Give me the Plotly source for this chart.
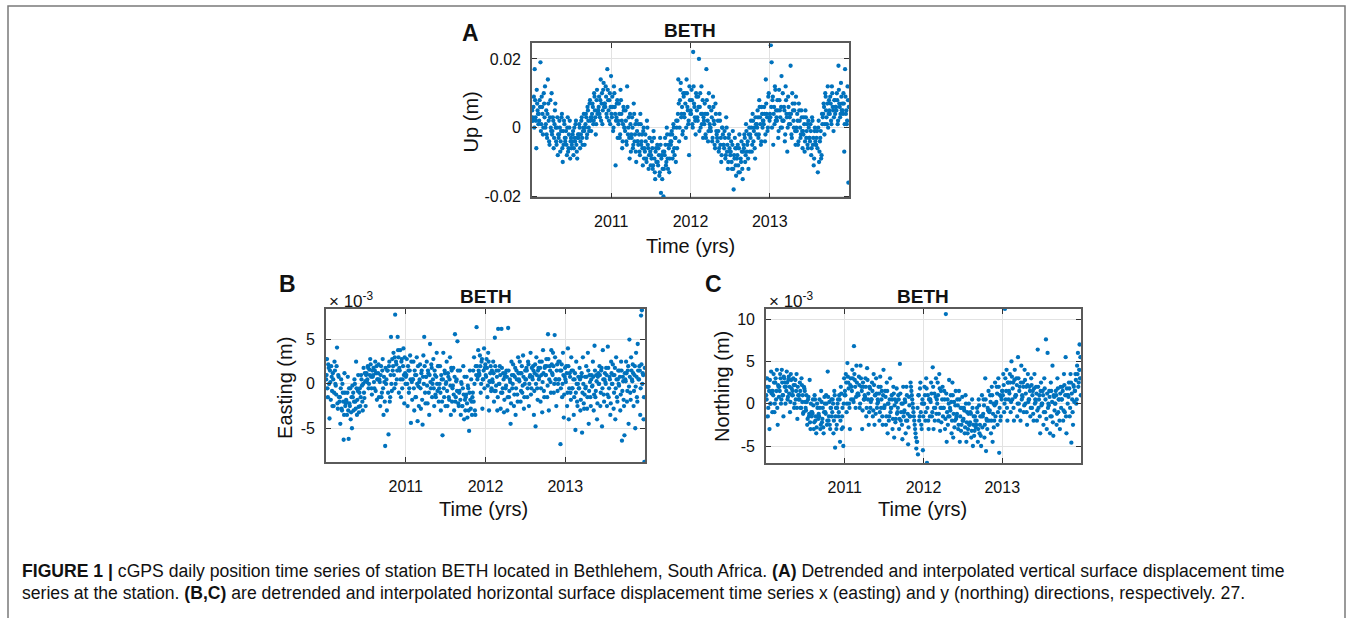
import numpy as np
import plotly.graph_objects as go

W, H = 1354, 618
FONT = "Liberation Sans, Arial, sans-serif"

# ---- data (one row per month, 2010-01 .. 2013-12) ----
# Two sets of 8 readings per month are interleaved in time.
# Up component, millimetres
up_mm_rows = [
    [5, 2, 9, 17, 3, -6, 7, 4], [4, 8, 19, 1, 6, -2, 10, 3], [0, 5, -3, 14, 2, -5, 8, -1],
    [-2, 3, -6, 1, 7, -4, 0, -8], [-3, 2, -7, -1, 4, -10, -5, 1], [-4, -1, -8, 3, -6, 0, -9, -3],
    [-5, -2, -8, 0, -4, 2, -7, -3], [-3, 1, -6, -2, 3, -5, 0, -1], [0, 4, -3, 6, 2, -1, 8, 3],
    [3, 7, 1, 10, 5, -2, 8, 4], [5, 9, 3, 14, 7, 1, 11, 6], [7, 12, 4, 17, 8, 2, 10, 6],
    [4, 9, -1, 12, 6, -11, 3, 8], [2, 7, -3, 11, 4, -6, 1, 5], [0, 5, -4, 12, -2, 3, -9, 1],
    [-2, 3, -6, 7, -4, 1, -10, -1], [-4, 1, -7, 4, -5, -2, -11, 0], [-6, -2, -9, 2, -5, -12, -3, -7],
    [-8, -4, -12, -1, -9, -15, -6, -10], [-10, -6, -14, -3, -19, -8, -12, -20], [-7, -3, -11, 0, -9, -5, -13, -2],
    [-5, -1, -9, 1, -6, -3, -10, 0], [2, 14, -4, 8, 13, 4, -2, 10], [4, 10, -3, 14, 6, 1, -8, 8],
    [5, 11, 1, 22, 7, 3, -2, 9], [3, 9, 20, 6, 0, 12, 4, -3], [2, 7, -2, 17, 4, -4, 10, 1],
    [0, 5, -4, 9, 2, -5, 7, -1], [-3, 2, -7, 4, -5, -10, 0, -2], [-5, -1, -9, 3, -7, -12, -3, -6],
    [-8, -4, -12, -1, -18, -9, -6, -14], [-9, -5, -13, -2, -21, -10, -7, -15], [-5, -2, -10, 1, -7, -4, -12, 0],
    [-2, 2, -7, 4, -4, 0, -9, 1], [1, 5, -3, 8, 3, -5, 6, 0], [2, 6, -4, 14, 4, -1, 9, 3],
    [4, 24, 19, 8, -5, 6, 12, 2], [3, 8, -3, 11, 5, 0, 15, 2], [2, 6, -4, 12, 4, -7, 9, 1],
    [3, 18, -2, 10, 5, 0, 7, -5], [0, 4, -5, 7, 2, -3, 5, -1], [-1, 3, -7, 5, -3, 1, -6, 0],
    [-3, 1, -8, 3, -5, -11, -1, -4], [-5, -1, -13, 2, -7, -3, -9, 4], [3, 7, -2, 10, 5, 1, 12, 4],
    [5, 9, 2, 12, 6, -1, 8, 4], [6, 10, 1, 18, 7, 3, 13, 5], [5, 10, -7, 17, 4, 1, 12, -16],
]
up_mm_rows_b = [
    [3, 6, 0, 8, 2, 11, 5, 1], [2, 6, -1, 9, 4, 0, 7, 12], [1, -2, 4, 7, -4, 3, 0, 10],
    [-1, 2, -3, 5, 0, -5, 3, -2], [-2, 0, -4, 3, -6, -1, 2, -3], [-3, -5, 0, -7, -2, 2, -4, -6],
    [-4, -1, -6, -3, 1, -5, -9, -2], [-2, 0, -4, 2, -3, -1, 4, -5], [1, 3, -2, 5, 0, 7, 2, -1],
    [4, 6, 2, 9, 3, 1, 11, 5], [6, 4, 8, 2, 10, 5, 13, 7], [6, 9, 3, 11, 5, 8, 1, 15],
    [3, 6, 0, 10, 4, 2, 7, -3], [1, 4, -2, 8, 2, -4, 6, 0], [-1, 2, -5, 6, 0, -3, 4, -7],
    [-3, 0, -5, 4, -2, -7, 2, -4], [-5, -2, -8, 1, -4, -6, -1, -9], [-7, -4, -10, 0, -6, -8, -3, -11],
    [-9, -6, -11, -3, -13, -7, -10, -5], [-11, -8, -13, -5, -9, -15, -7, -12], [-8, -5, -10, -2, -12, -6, -9, -4],
    [-4, -2, -7, 0, -8, -3, 2, -6], [4, 7, 0, 11, 3, 6, -1, 9], [3, 7, 0, 10, 5, 2, 12, 4],
    [4, 8, 0, 12, 6, 2, 10, 5], [2, 6, -1, 10, 4, 1, 8, 3], [1, 4, -3, 8, 2, -1, 6, 0],
    [-1, 3, -3, 6, 1, -6, 4, -2], [-4, -1, -6, 2, -3, -8, 0, -5], [-6, -3, -8, 0, -5, -10, -2, -7],
    [-7, -10, -5, -12, -8, -3, -11, -6], [-8, -11, -6, -13, -9, -4, -12, -7], [-6, -3, -8, -1, -5, -9, -2, -7],
    [-3, 0, -5, 2, -1, -6, 3, -2], [0, 3, -2, 6, 1, -4, 4, 2], [1, 4, -2, 7, 3, 0, 10, 2],
    [3, 6, 0, 9, 4, 1, 11, 5], [2, 5, -1, 8, 3, 6, 0, 10], [2, 5, -2, 8, 3, 0, 6, 4],
    [1, 4, -3, 7, 2, 5, -1, 9], [-1, 2, -4, 5, 0, -2, 3, -6], [-2, 1, -4, 3, -1, -5, 2, -3],
    [-4, -1, -6, 2, -3, -9, 0, -5], [-3, -6, 0, -10, -4, -1, -8, 1], [4, 6, 1, 9, 3, 7, 0, 8],
    [4, 7, 1, 10, 5, 3, 8, 6], [5, 8, 2, 11, 6, 4, 9, 7], [4, 7, 1, 9, 5, 2, 8, 6],
]

# Easting component, millimetres
east_mm_rows = [
    [0.5, 2.8, -1.5, 1.8, -3.9, 0.2, 2.0, -0.8], [1.2, -2.5, 2.5, 0.0, -1.2, 4.1, -2.8, 0.8],
    [-2.0, -4.5, 0.5, -3.0, -1.0, -6.3, 1.2, -2.5], [-1.8, -3.5, 0.8, -6.2, -2.2, -0.5, -3.2, -5.0],
    [-1.5, -3.0, 0.5, -2.0, 2.5, -3.5, -0.8, -2.6], [-1.0, -2.5, 1.0, -0.2, -3.0, 1.8, -1.6, 0.3],
    [1.0, 0.2, 2.0, -0.5, 1.6, 2.8, 0.8, -1.2], [0.8, 1.8, -0.5, 2.5, 1.2, -1.8, 0.5, 2.2],
    [0.5, -2.5, 2.0, -1.0, 2.8, -3.5, 0.2, -7.0], [0.0, -3.0, 1.5, -5.7, 2.5, -1.5, 5.3, -0.8],
    [1.5, 3.5, -0.5, 7.8, 2.5, 0.5, 5.3, 3.0], [1.8, 3.8, -1.5, 2.8, 0.5, 4.0, -2.2, 1.2],
    [0.8, 2.8, -2.5, 1.5, -0.5, 3.2, -4.4, 0.2], [0.5, 2.5, -3.0, 1.0, -1.5, 3.0, -4.2, -0.3],
    [0.2, 2.2, -2.8, 1.5, -4.6, 3.2, 5.3, -1.0], [0.8, 2.5, -2.2, 1.2, -3.5, 4.5, -0.5, 1.8],
    [0.0, 2.8, -2.5, 1.0, -1.5, 3.5, -0.8, 2.0], [-0.5, 2.0, -3.0, 0.5, -5.8, 3.5, -1.5, 1.2],
    [0.0, 2.5, -2.5, 0.8, -1.8, 3.0, -3.5, 1.5], [-0.5, 1.8, -3.0, 5.6, -1.5, 0.5, 4.8, -2.2],
    [-1.0, 1.5, -3.5, 0.0, -2.5, 2.0, -4.0, -1.8], [-1.5, 0.8, -3.8, -0.5, -5.3, 1.5, -2.8, -2.0],
    [-1.5, 1.5, 3.0, -3.0, 2.0, 6.4, 0.5, 3.8], [1.2, 3.2, -1.0, 2.5, -2.8, 0.5, 4.0, 1.8],
    [1.0, 2.8, -1.5, 3.5, -3.0, 0.2, 2.0, -0.5], [0.5, 2.5, -2.0, 5.2, -0.8, 1.5, -3.0, 6.2],
    [0.0, 2.0, -2.8, 6.2, -1.0, 1.2, -3.2, 0.8], [-0.5, 1.5, -3.0, 6.3, -1.5, 0.5, -4.5, 2.5],
    [-0.5, 2.2, -2.5, 0.8, -3.5, 1.5, -1.2, 3.0], [0.5, 2.5, -2.0, 1.2, -1.0, 3.2, -2.8, 0.0],
    [0.5, 1.8, -1.5, 2.5, -2.5, 0.8, 3.5, -0.5], [0.8, 2.0, -3.5, 1.2, -4.8, 3.0, -0.5, 1.5],
    [0.5, 2.5, -2.0, 1.0, -3.2, 3.8, -0.8, 1.8], [1.0, 2.8, -1.5, 5.6, -3.0, 2.0, 0.2, 3.8],
    [1.2, 3.5, -1.0, 5.5, 0.5, -2.5, 2.2, 0.0], [0.5, 2.5, -6.8, 1.5, -1.5, 3.5, -3.8, 0.8],
    [0.5, 2.0, -2.5, 4.0, -4.0, 1.2, -1.0, 3.0], [-0.5, 1.5, -3.5, 0.5, -5.2, 2.5, -2.0, 0.0],
    [-0.5, 1.8, -3.0, 0.8, -5.5, 3.0, -2.2, -1.2], [-0.5, 2.0, -2.8, 3.5, -4.5, 1.0, -1.5, 0.5],
    [-0.3, 2.5, -3.0, 4.3, -1.5, 1.0, -4.0, 0.8], [0.0, 2.0, -2.5, 1.5, -4.8, 3.8, -1.2, 0.5],
    [0.2, 1.8, -2.5, 4.2, -1.5, 0.8, -3.5, 2.5], [0.0, 2.2, -2.8, 1.0, -4.0, 3.0, -1.5, 0.5],
    [0.0, 1.5, -3.0, 2.5, -6.4, 0.8, -1.8, -5.8], [0.5, 2.5, -2.0, 1.5, -4.5, 5.0, -1.0, 3.0],
    [0.5, 2.2, -2.5, 1.0, -5.0, 3.5, -1.5, 4.5], [0.5, 2.0, -3.5, 7.7, 8.3, 1.2, -4.0, -8.8],
]
east_mm_rows_b = [
    [1.0, -0.5, 2.2, 0.0, 1.5, -1.8, 0.8, -2.5], [0.5, -1.0, 1.5, -0.2, 2.0, -2.2, 1.0, -1.5],
    [-1.5, -0.5, -2.8, 0.0, -2.0, -3.5, -1.0, -2.2], [-2.0, -1.0, -3.0, -0.5, -2.5, -4.0, -1.5, -0.2],
    [-1.0, -2.0, 0.0, -2.8, -0.5, -1.8, 1.0, -3.2], [-0.5, -1.5, 0.5, -2.0, 0.0, -1.0, 1.2, -2.5],
    [1.2, 0.5, 1.8, 0.0, 1.0, 2.2, -0.5, 1.5], [1.0, 0.2, 1.5, -0.8, 2.0, 0.5, 1.2, -1.5],
    [0.2, 1.0, -1.5, 1.5, -0.5, 0.8, -2.0, 1.8], [0.5, 1.5, -1.0, 2.0, -2.0, 1.0, 0.0, 2.8],
    [2.0, 1.0, 3.0, 0.0, 2.2, 1.5, 3.8, -1.0], [1.5, 0.5, 2.5, -0.5, 2.0, 1.0, 3.0, 0.0],
    [1.0, 0.0, 2.0, -1.0, 1.5, 0.5, 2.5, -1.8], [0.5, -0.5, 1.5, -1.5, 1.0, 0.0, 2.0, -2.5],
    [0.5, -0.5, 1.2, -1.8, 0.8, 0.0, 2.0, -2.2], [0.8, -0.2, 1.5, -1.0, 1.0, 0.2, 2.2, -1.5],
    [0.5, -0.5, 1.5, -1.2, 0.8, 0.0, 2.0, -2.0], [0.0, -1.0, 1.0, -2.0, 0.5, -0.5, 1.5, -2.5],
    [0.2, -0.8, 1.2, -1.5, 0.5, -0.2, 1.8, -2.0], [-0.2, -1.2, 0.8, -2.0, 0.3, -0.8, 1.5, -2.5],
    [-0.8, -1.8, 0.2, -2.5, -0.5, -1.2, 0.8, -3.0], [-1.2, -2.2, -0.2, -3.0, -1.0, -1.8, 0.5, -3.5],
    [-1.0, -2.0, 0.0, -3.5, 1.0, 2.0, 0.8, 1.5], [1.0, 2.0, 0.0, 2.8, 0.5, 1.5, -0.5, 2.2],
    [0.8, 1.8, -0.2, 2.5, 0.3, 1.2, -0.8, 1.5], [0.2, 1.2, -0.8, 2.0, -0.2, 0.8, -1.5, 1.5],
    [0.0, 1.0, -1.0, 1.8, -0.5, 0.5, -1.8, 1.2], [-0.2, 0.8, -1.5, 1.5, -0.8, 0.2, -2.2, 1.0],
    [0.0, 1.0, -1.2, 1.8, -0.5, 0.5, -2.0, 1.2], [0.3, 1.2, -0.8, 2.0, -0.2, 0.8, -1.5, 1.5],
    [0.5, 1.5, -0.5, 2.2, 0.0, 1.0, -1.2, 1.8], [0.5, 1.5, -0.8, 2.2, 0.0, 1.0, -1.8, 1.8],
    [0.8, 1.8, -0.5, 2.5, 0.2, 1.2, -1.5, 2.0], [1.0, 2.0, -0.2, 2.8, 0.5, 1.5, -1.0, 2.2],
    [1.0, 2.0, 0.0, 3.0, 0.5, 1.5, -0.8, 2.5], [0.5, 1.5, -0.5, 2.2, 0.0, 1.0, -1.2, 1.8],
    [0.2, 1.2, -1.0, 2.0, -0.5, 0.8, -1.8, 1.5], [-0.5, 0.5, -1.5, 1.2, -1.0, 0.0, -2.5, 0.8],
    [-0.5, 0.5, -1.8, 1.2, -1.0, 0.0, -2.8, 0.8], [-0.3, 0.8, -1.5, 1.5, -0.8, 0.2, -2.5, 1.0],
    [-0.2, 0.8, -1.2, 1.5, -0.8, 0.3, -2.2, 1.2], [0.0, 1.0, -1.0, 1.8, -0.5, 0.5, -2.0, 1.2],
    [0.0, 1.0, -1.2, 1.8, -0.5, 0.5, -2.2, 1.2], [0.0, 1.0, -1.0, 1.8, -0.5, 0.5, -2.0, 1.5],
    [-0.2, 0.8, -1.2, 1.5, -0.8, 0.3, -2.5, 1.2], [0.3, 1.2, -0.8, 2.0, -0.3, 0.8, -1.8, 1.5],
    [0.3, 1.2, -0.8, 2.0, -0.3, 0.8, -2.0, 1.5], [0.5, 1.5, -0.5, 2.2, 0.0, 1.0, -1.5, 1.8],
]

# Northing component, millimetres
north_mm_rows = [
    [1.0, 3.0, -1.5, 2.0, -3.0, 0.0, 3.8, 1.5], [1.5, 3.5, -1.0, 2.5, 0.5, 4.0, -2.5, 2.0],
    [2.0, 3.5, 0.0, 4.0, 1.0, -1.5, 3.0, 2.5], [2.0, 3.8, 0.5, 2.8, 1.2, -1.0, 3.5, 1.8],
    [1.5, 3.0, -0.5, 2.2, 0.5, 3.5, -1.8, 1.0], [1.0, 2.5, -0.5, 3.0, 0.2, -1.2, 2.0, 1.5],
    [-0.5, 1.0, -2.5, 0.5, -1.5, 2.8, -3.0, -1.0], [-1.0, 0.5, -3.0, 1.0, -2.0, -3.5, 0.0, -1.5],
    [-1.2, 0.5, -3.0, 1.5, -2.2, -0.5, -3.5, 0.8], [-1.0, 1.0, -2.5, 3.8, -2.0, 0.2, -3.0, -0.5],
    [-1.5, 0.5, -3.5, 1.5, -5.2, -0.5, -2.5, 0.0], [-1.5, 1.0, -4.5, 2.0, -3.0, -0.5, -5.0, 3.0],
    [1.5, 3.5, -1.0, 4.8, 2.5, 0.0, -3.0, 3.0], [2.0, 4.0, 0.5, 6.8, 2.8, -0.5, 4.5, 1.0],
    [1.2, 3.2, -0.5, 4.5, 2.0, -3.0, 2.5, 0.5], [1.0, 3.0, -1.5, 4.2, 0.5, -2.5, 2.0, -0.5],
    [0.5, 2.5, -1.5, 3.5, -2.5, 1.0, 3.0, -0.5], [0.5, 2.0, -2.0, 3.2, -0.5, 1.5, -2.5, 4.0],
    [-0.5, 1.5, -2.5, 2.5, -3.5, 0.0, -1.5, 3.0], [-0.5, 1.0, -3.0, 2.0, -4.0, 0.5, -1.8, 1.8],
    [-1.0, 1.0, -3.0, 4.7, -2.0, 0.0, -4.2, 2.0], [-1.0, 0.5, -3.5, 2.0, -2.0, -4.8, 0.8, -1.5],
    [2.5, 1.5, 0.5, -0.5, -1.5, -2.5, -3.5, -5.3], [-4.5, -6.0, 1.0, -1.5, 2.5, -2.5, 0.0, -5.5],
    [0.0, 2.0, -2.0, 3.0, -7.0, 1.0, -3.0, 0.5], [0.5, 2.5, -1.5, 4.3, -3.0, 1.2, -0.5, 3.0],
    [0.5, 2.5, -2.0, 3.5, -3.2, 1.5, -0.5, 2.0], [-0.5, 1.5, -3.0, 10.6, -4.5, 0.5, -1.5, 2.8],
    [-0.5, 1.0, -3.5, 2.5, -4.0, 0.2, -2.0, 1.5], [-1.5, 0.5, -3.0, 1.5, -4.5, -0.5, -2.5, 0.8],
    [-2.0, -0.5, -3.5, 1.0, -4.5, -1.0, -3.0, 0.0], [-2.5, -1.0, -4.0, 0.5, -5.0, -1.5, -3.2, -2.0],
    [-2.5, -0.5, -4.5, 0.5, -3.5, -1.5, -5.0, 1.0], [-1.5, 0.5, -4.0, 3.0, -5.6, -2.0, -0.5, 1.5],
    [-1.0, 1.0, -3.5, 2.0, -4.5, 0.0, -2.0, 2.5], [0.0, 2.0, -2.5, 3.0, -5.8, 1.0, -1.5, 0.5],
    [1.5, 3.5, -1.0, 11.2, 0.5, 4.0, -2.0, 2.5], [1.5, 3.5, -1.0, 5.0, 0.5, 2.5, -2.0, 4.0],
    [1.0, 3.0, -1.5, 5.5, 0.0, 2.0, -2.0, 4.5], [1.0, 2.5, -1.0, 4.0, 0.0, 2.0, -2.5, 3.5],
    [0.5, 2.0, -1.5, 3.0, -0.5, 1.5, -2.0, 3.5], [0.5, 2.0, -2.0, 6.4, -0.5, 1.0, -3.5, 2.5],
    [0.0, 1.5, -2.5, 3.0, -1.0, 7.6, -3.0, 6.0], [0.0, 1.5, -3.5, 2.5, -1.5, 4.5, -3.8, 0.8],
    [0.0, 1.5, -2.5, 3.0, -1.0, 0.5, -3.0, 2.0], [0.5, 2.0, -2.0, 3.5, -1.0, 5.5, -3.5, 1.0],
    [1.0, 2.5, -1.5, 3.5, -4.6, 0.5, -2.5, 2.0], [1.5, 3.5, 0.0, 4.5, 6.0, 2.5, 7.0, 5.5],
]
north_mm_rows_b = [
    [0.5, 2.0, -0.5, 1.5, 2.8, 0.0, 1.2, -1.0], [1.0, 2.5, 0.0, 3.0, 1.5, -0.5, 2.2, 0.8],
    [1.5, 3.0, 0.5, 2.5, 1.0, 3.2, 2.0, 0.0], [1.5, 2.5, 0.8, 3.2, 2.0, 0.2, 2.8, 1.0],
    [1.0, 2.2, 0.0, 2.8, 1.5, -0.5, 2.0, 0.5], [0.5, 1.5, -0.5, 2.2, 1.0, -1.0, 1.8, 0.2],
    [-0.8, 0.2, -1.8, 0.8, -1.2, -2.2, 0.0, -1.5], [-1.2, -0.2, -2.2, 0.5, -1.5, -2.8, -0.5, -1.8],
    [-1.5, -0.5, -2.5, 0.2, -1.8, -2.8, -1.0, 0.0], [-1.2, 0.0, -2.0, 0.8, -1.5, -2.5, -0.5, 0.5],
    [-1.0, 0.0, -2.0, 1.0, -1.5, -3.0, -0.5, 0.5], [-1.0, 0.5, -2.0, 1.2, -1.5, -2.8, 0.0, 1.0],
    [1.0, 2.5, 0.0, 3.2, 1.8, -0.5, 2.2, 0.5], [1.5, 3.0, 0.2, 3.5, 2.0, 0.8, 2.5, 1.2],
    [1.0, 2.2, 0.0, 3.0, 1.5, -0.8, 2.0, 0.5], [0.8, 2.0, -0.5, 2.8, 1.2, -1.0, 1.8, 0.2],
    [0.5, 1.5, -0.8, 2.2, 1.0, -1.2, 1.2, 0.0], [0.2, 1.2, -1.0, 2.0, 0.5, -1.5, 1.0, -0.5],
    [-0.2, 0.8, -1.5, 1.5, 0.0, -2.0, 0.5, -1.0], [-0.5, 0.5, -1.8, 1.2, -0.2, -2.2, 0.2, -1.2],
    [-0.5, 0.5, -1.8, 1.2, -1.0, -2.5, 0.0, -1.5], [-0.8, 0.2, -2.0, 1.0, -1.2, -2.8, -0.2, -1.5],
    [2.0, 1.0, 0.0, -1.0, -2.0, -3.0, -4.0, -4.5], [-0.5, 1.0, -2.0, 1.8, -1.0, -3.0, 0.5, -1.5],
    [0.0, 1.0, -1.0, 1.8, -0.5, -2.0, 0.5, -1.5], [0.2, 1.2, -1.0, 2.0, -0.5, -2.0, 0.8, -1.2],
    [0.0, 1.0, -1.2, 1.8, -0.5, -2.2, 0.5, -1.5], [-0.5, 0.5, -1.8, 1.2, -1.0, -2.5, 0.0, -1.5],
    [-0.8, 0.2, -2.0, 1.0, -1.2, -2.8, -0.2, -1.8], [-1.2, -0.2, -2.5, 0.5, -1.5, -3.2, -0.5, -2.0],
    [-1.8, -0.8, -2.8, 0.0, -2.2, -3.5, -1.2, -2.5], [-2.2, -1.2, -3.2, -0.5, -2.5, -3.8, -1.5, -2.8],
    [-2.0, -1.0, -3.0, -0.2, -2.5, -3.8, -1.5, -2.8], [-1.2, -0.2, -2.5, 0.5, -1.8, -3.0, -0.8, -2.0],
    [-0.8, 0.2, -2.0, 1.0, -1.2, -2.8, -0.2, -1.5], [0.2, 1.2, -1.0, 2.0, -0.5, -2.0, 0.8, 1.5],
    [1.0, 2.2, 0.0, 3.0, 1.5, -0.5, 2.5, 0.5], [1.2, 2.5, 0.2, 3.2, 1.8, -0.5, 2.8, 0.8],
    [1.0, 2.2, 0.0, 3.0, 1.5, -0.8, 2.5, 0.5], [0.8, 2.0, -0.2, 2.8, 1.2, -1.0, 2.2, 0.2],
    [0.5, 1.5, -0.5, 2.2, 1.0, -1.2, 1.8, 0.0], [0.2, 1.2, -0.8, 2.0, 0.5, -1.5, 1.5, -0.2],
    [0.0, 1.0, -1.0, 1.8, 0.5, -1.8, 1.2, -0.5], [-0.2, 0.8, -1.5, 1.5, 0.2, -2.2, 1.0, -0.8],
    [0.0, 1.0, -1.2, 1.8, 0.5, -2.0, 1.2, -0.5], [0.5, 1.5, -0.8, 2.2, 1.0, -1.5, 1.8, 0.0],
    [0.8, 1.8, -0.5, 2.5, 1.2, -1.0, 2.2, 0.2], [1.5, 2.8, 0.5, 3.5, 2.0, 4.0, 3.0, 1.0],
]

x_ticks = [2011, 2012, 2013]
x_tick_labels = ["2011", "2012", "2013"]
up_ticks = [-0.02, 0, 0.02]
up_tick_labels = ["-0.02", "0", "0.02"]
east_ticks = [-5e-3, 0, 5e-3]
east_tick_labels = ["-5", "0", "5"]
north_ticks = [-5e-3, 0, 5e-3, 10e-3]
north_tick_labels = ["-5", "0", "5", "10"]


# ---- derived series (interleave the two monthly sets, convert mm -> m) ----
def merge(rows_a, rows_b):
    out = []
    for ra, rb in zip(rows_a, rows_b):
        for a, b in zip(ra, rb):
            out.extend([a, b])
    return np.array(out) * 1e-3


up = merge(up_mm_rows, up_mm_rows_b)
east = merge(east_mm_rows, east_mm_rows_b)
north = merge(north_mm_rows, north_mm_rows_b)
n = len(up)
t = 2010 + (np.arange(n) + 0.5) / n * 4.0   # sample epochs (decimal years)

BLUE = "#0072BD"


def px(x):
    return x / W


def py(y):
    return 1 - y / H


fig = go.Figure()
for i, yv in enumerate([up, east, north]):
    s = "" if i == 0 else str(i + 1)
    fig.add_trace(go.Scatter(x=t, y=yv, mode="markers", xaxis="x" + s, yaxis="y" + s,
                             marker=dict(color=BLUE, size=4.3, line=dict(width=0)),
                             showlegend=False, hoverinfo="skip"))


def xax(l, r, anchor):
    return dict(domain=[px(l), px(r)], anchor=anchor, range=[2010, 2014],
                tickvals=x_ticks, ticktext=x_tick_labels,
                ticks="inside", ticklen=5, tickcolor="#333", tickwidth=1,
                showline=True, linecolor="#5a5a5a", linewidth=1.6, mirror="allticks",
                showgrid=True, gridcolor="#e2e2e2", gridwidth=1, zeroline=False,
                tickfont=dict(family=FONT, size=16, color="#111"), ticklabelstandoff=9)


def yax(b, tp, anchor, rng, tv, tt):
    return dict(domain=[py(b), py(tp)], anchor=anchor, range=rng,
                tickvals=tv, ticktext=tt,
                ticks="inside", ticklen=5, tickcolor="#333", tickwidth=1,
                showline=True, linecolor="#5a5a5a", linewidth=1.6, mirror="allticks",
                showgrid=True, gridcolor="#e2e2e2", gridwidth=1, zeroline=False,
                tickfont=dict(family=FONT, size=16, color="#111"), ticklabelstandoff=6)


annotations = []


def txt(x, y, s, size, bold=False, angle=0, xanchor="center", yanchor="middle"):
    annotations.append(dict(x=px(x), y=py(y), xref="paper", yref="paper",
                            text=("<b>%s</b>" % s) if bold else s, showarrow=False,
                            textangle=angle, xanchor=xanchor, yanchor=yanchor,
                            font=dict(family=FONT, size=size, color="#111")))


# panel A
txt(470, 33, "A", 23, bold=True)
txt(690, 31, "BETH", 19, bold=True)
txt(690, 249, "Time (yrs)", 20)
txt(471, 124, "Up (m)", 20, angle=-90)
# panel B
txt(287, 288, "B", 23, bold=True)
txt(486, 300, "BETH", 19, bold=True)
txt(483, 516, "Time (yrs)", 20)
txt(285, 393, "Easting (m)", 20, angle=-90)
txt(327, 304, "× 10<sup>-3</sup>", 17, xanchor="left")
# panel C
txt(713, 288, "C", 23, bold=True)
txt(923, 300, "BETH", 19, bold=True)
txt(922, 516, "Time (yrs)", 20)
txt(722, 392, "Northing (m)", 20, angle=-90)
txt(767, 304, "× 10<sup>-3</sup>", 17, xanchor="left")
# caption
cap1 = ("<b>FIGURE 1 |</b> cGPS daily position time series of station BETH located in Bethlehem, "
        "South Africa. <b>(A)</b> Detrended and interpolated vertical surface displacement time")
cap2 = ("series at the station. <b>(B,C)</b> are detrended and interpolated horizontal surface "
        "displacement time series x (easting) and y (northing) directions, respectively. 27.")
txt(20, 578, cap1, 17.6, xanchor="left")
txt(20, 601, cap2, 17.6, xanchor="left")

fig.update_layout(
    width=W, height=H, margin=dict(l=0, r=0, t=0, b=0),
    paper_bgcolor="white", plot_bgcolor="white",
    xaxis=xax(532, 849, "y"), yaxis=yax(200, 44, "x", [-0.0203, 0.0245], up_ticks, up_tick_labels),
    xaxis2=xax(326, 645, "y2"), yaxis2=yax(468, 313, "x2", [-8.8e-3, 8.45e-3], east_ticks, east_tick_labels),
    xaxis3=xax(766, 1081, "y3"), yaxis3=yax(469, 313, "x3", [-7.0e-3, 11.2e-3], north_ticks, north_tick_labels),
    annotations=annotations,
    shapes=[dict(type="rect", xref="paper", yref="paper", x0=px(8), x1=px(1345), y0=-0.1, y1=py(6),
                 line=dict(color="#7a7a7a", width=1.5), fillcolor="rgba(0,0,0,0)", layer="below")],
)

fig.write_html("out.html")
